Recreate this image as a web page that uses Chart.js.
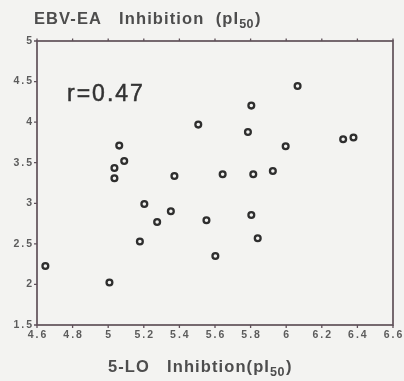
<!DOCTYPE html>
<html>
<head>
<meta charset="utf-8">
<script src="https://cdn.jsdelivr.net/npm/chart.js@4/dist/chart.umd.min.js"></script>
<style>
  html, body { margin: 0; padding: 0; background: #f3f3f1; }
  #wrap { width: 404px; height: 381px; }
</style>
</head>
<body>
<div id="wrap"><canvas id="c" width="404" height="381"></canvas></div>
<script>
// 5-LO inhibition (x) vs EBV-EA inhibition (y), both as pI50
const xValues = [4.647, 5.007, 5.178, 5.203, 5.275, 5.352, 5.372, 5.062, 5.090, 5.035, 5.035, 5.506, 5.552,
                 5.602, 5.643, 5.785, 5.804, 5.804, 5.815, 5.840, 5.925, 5.997, 6.064, 6.320, 6.378];
const yValues = [2.228, 2.024, 2.529, 2.992, 2.770, 2.902, 3.337, 3.711, 3.522, 3.435, 3.309, 3.970, 2.791,
                 2.351, 3.358, 3.879, 4.204, 2.856, 3.358, 2.569, 3.398, 3.703, 4.446, 3.789, 3.810];

const xTickValues = [4.6, 4.8, 5, 5.2, 5.4, 5.6, 5.8, 6, 6.2, 6.4, 6.6];
const yTickValues = [1.5, 2, 2.5, 3, 3.5, 4, 4.5, 5];

// axis titles: [main text, subscript, closing]
const yTitleParts = ['EBV-EA   Inhibition  (pI', '50', ')'];
const xTitleParts = ['5-LO   Inhibtion(pI', '50', ')'];
const corrLabel = 'r=0.47';

const AXIS_COLOR = '#5f5059';
const LABEL_COLOR = '#5c5c5c';
const TITLE_COLOR = '#4d4d4d';
const FONT = '"Liberation Sans", Arial, sans-serif';

function drawRich(ctx, parts, x, baseline) {
  ctx.textAlign = 'left';
  ctx.textBaseline = 'alphabetic';
  ctx.letterSpacing = '1.1px';
  ctx.font = 'bold 16.5px ' + FONT;
  ctx.fillText(parts[0], x, baseline);
  x += ctx.measureText(parts[0]).width;
  ctx.font = 'bold 12.5px ' + FONT;
  ctx.letterSpacing = '0.5px';
  ctx.fillText(parts[1], x, baseline + 4);
  x += ctx.measureText(parts[1]).width + 1;
  ctx.font = 'bold 16.5px ' + FONT;
  ctx.letterSpacing = '1.1px';
  ctx.fillText(parts[2], x, baseline);
}

const framePlugin = {
  id: 'frame',
  beforeDraw(chart) {
    const ctx = chart.ctx;
    ctx.save();
    ctx.fillStyle = '#f3f3f1';
    ctx.fillRect(0, 0, chart.width, chart.height);
    ctx.restore();
  },
  beforeDatasetsDraw(chart) {
    const { ctx, chartArea: a, scales: { x, y } } = chart;
    ctx.save();
    ctx.strokeStyle = AXIS_COLOR;
    ctx.lineWidth = 1.7;
    ctx.strokeRect(a.left, a.top, a.right - a.left, a.bottom - a.top);

    // tick marks
    ctx.lineWidth = 1.3;
    ctx.beginPath();
    yTickValues.forEach(v => {
      const py = y.getPixelForValue(v);
      ctx.moveTo(a.left - 3, py);
      ctx.lineTo(a.left, py);
    });
    xTickValues.forEach(v => {
      const px = x.getPixelForValue(v);
      ctx.moveTo(px, a.bottom);
      ctx.lineTo(px, a.bottom + 3);
      ctx.moveTo(px, a.top - 2.5);
      ctx.lineTo(px, a.top);
    });
    ctx.stroke();

    // tick labels
    ctx.fillStyle = LABEL_COLOR;
    ctx.font = 'bold 10.5px ' + FONT;
    ctx.letterSpacing = '2px';
    ctx.textBaseline = 'middle';
    ctx.textAlign = 'left';
    yTickValues.forEach(v => {
      const t = String(v);
      const w = ctx.measureText(t).width - 2;
      ctx.fillText(t, a.left - 5 - w, y.getPixelForValue(v));
    });
    xTickValues.forEach(v => {
      const t = String(v);
      const w = ctx.measureText(t).width - 2;
      ctx.fillText(t, x.getPixelForValue(v) - w / 2, a.bottom + 10.5);
    });

    // titles
    ctx.fillStyle = TITLE_COLOR;
    drawRich(ctx, yTitleParts, 34, 23.5);
    drawRich(ctx, xTitleParts, 108, 371.5);

    // correlation coefficient
    ctx.fillStyle = '#333';
    ctx.font = '23px ' + FONT;
    ctx.letterSpacing = '2px';
    ctx.textBaseline = 'alphabetic';
    ctx.strokeStyle = '#333';
    ctx.lineWidth = 0.5;
    ctx.fillText(corrLabel, 67, 101);
    ctx.strokeText(corrLabel, 67, 101);
    ctx.restore();
  }
};

new Chart(document.getElementById('c'), {
  type: 'scatter',
  data: {
    datasets: [{
      data: xValues.map((v, i) => ({ x: v, y: yValues[i] })),
      backgroundColor: 'rgba(0,0,0,0)',
      borderColor: '#2e2e2e',
      borderWidth: 2.3,
      pointRadius: 2.9,
      pointHoverRadius: 2.9
    }]
  },
  options: {
    responsive: false,
    animation: false,
    devicePixelRatio: 1,
    layout: { padding: { left: 0, right: 11, top: 41, bottom: 0 } },
    plugins: { legend: { display: false }, tooltip: { enabled: false }, title: { display: false } },
    scales: {
      x: {
        type: 'linear', min: 4.6, max: 6.6,
        afterBuildTicks: s => { s.ticks = xTickValues.map(v => ({ value: v })); },
        ticks: { display: false },
        grid: { display: false },
        border: { display: false },
        afterFit: s => { s.height = 56; }
      },
      y: {
        type: 'linear', min: 1.5, max: 5,
        afterBuildTicks: s => { s.ticks = yTickValues.map(v => ({ value: v })); },
        ticks: { display: false },
        grid: { display: false },
        border: { display: false },
        afterFit: s => { s.width = 37; }
      }
    }
  },
  plugins: [framePlugin]
});
</script>
</body>
</html>
